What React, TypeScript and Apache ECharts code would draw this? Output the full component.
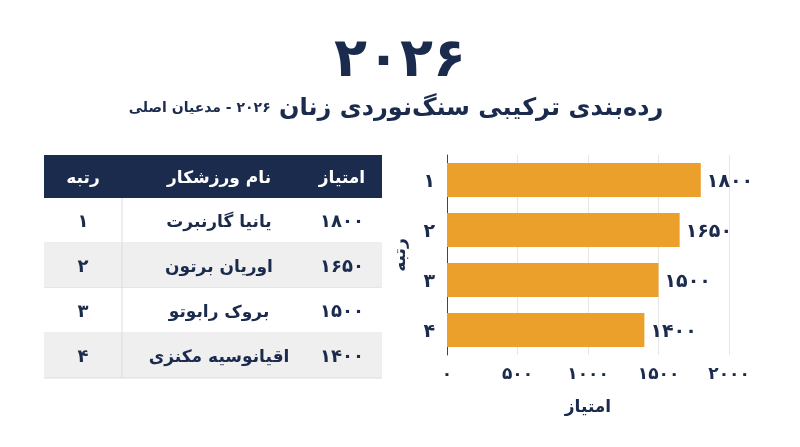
import React, { useEffect, useRef } from 'react';
import * as echarts from 'echarts';

const ranks = [1, 2, 3, 4];
const athletes = ['یانیا گارنبرت', 'اوریان برتون', 'بروک رابوتو', 'اقیانوسیه مکنزی'];
const scores = [1800, 1650, 1500, 1400];
const headers = ['رتبه', 'نام ورزشکار', 'امتیاز'];
const titleText = '2026';
const subtitleMain = 'رده‌بندی ترکیبی سنگ‌نوردی زنان';
const subtitleSmall = '2026 - مدعیان اصلی';
const xAxisName = 'امتیاز';
const yAxisName = 'رتبه';
const xMin = 0;
const xMax = 2000;
const xInterval = 500;

const fa = (v: number | string) => String(v).replace(/\d/g, (d) => '۰۱۲۳۴۵۶۷۸۹'[+d]);

const NAVY = '#1b2b4d';
const BAR = '#eba02c';
const FONT = '"DejaVu Sans", sans-serif';

export default function App() {
  const ref = useRef<HTMLDivElement>(null);
  useEffect(() => {
    if (!ref.current) return;
    const chart = echarts.init(ref.current, null, { renderer: 'svg' });

    const tx = 44, tw = 338, headY = 155, headH = 43, rowH = 45;
    const colRankX = 83, colNameX = 219, colScoreX = 342, sepX = 122;
    const graphic: any[] = [];
    graphic.push({ type: 'rect', shape: { x: tx, y: headY, width: tw, height: headH }, style: { fill: NAVY } });
    const hy = headY + headH / 2;
    const cell = (x: number, y: number, text: string, fill: string, size: number) => ({
      type: 'text', x, y,
      style: { text, fill, font: `bold ${size}px ${FONT}`, textAlign: 'center', textVerticalAlign: 'middle' },
    });
    graphic.push(cell(colRankX, hy, headers[0], '#fff', 17));
    graphic.push(cell(colNameX, hy, headers[1], '#fff', 17));
    graphic.push(cell(colScoreX, hy, headers[2], '#fff', 17));
    ranks.forEach((r, i) => {
      const y0 = headY + headH + i * rowH;
      graphic.push({ type: 'rect', shape: { x: tx, y: y0, width: tw, height: rowH }, style: { fill: i % 2 === 1 ? '#efefef' : '#ffffff' } });
      graphic.push({ type: 'line', shape: { x1: tx, y1: y0 + rowH, x2: tx + tw, y2: y0 + rowH }, style: { stroke: '#dcdcdc', lineWidth: 1 } });
      const cy = y0 + rowH / 2;
      graphic.push(cell(colRankX, cy, fa(r), NAVY, 18));
      graphic.push(cell(colNameX, cy, athletes[i], NAVY, 17));
      graphic.push(cell(colScoreX, cy, fa(scores[i]), NAVY, 18));
    });
    graphic.push({ type: 'line', shape: { x1: sepX, y1: headY + headH, x2: sepX, y2: headY + headH + ranks.length * rowH }, style: { stroke: '#dcdcdc', lineWidth: 1 } });

    graphic.push({ type: 'text', x: 400, y: 57, style: { text: fa(titleText), fill: NAVY, font: `bold 54px ${FONT}`, textAlign: 'center', textVerticalAlign: 'middle' } });
    graphic.push({
      type: 'text', x: 396, y: 107,
      style: {
        text: `{s|\u202B${fa(subtitleSmall)}\u202C}{b| ${subtitleMain}}`,
        textAlign: 'center', textVerticalAlign: 'middle',
        rich: {
          s: { fill: NAVY, font: `bold 14px ${FONT}` },
          b: { fill: NAVY, font: `bold 24px ${FONT}` },
        },
      },
    });

    chart.setOption({
      animation: false,
      graphic,
      grid: { left: 447, right: 71, top: 155, bottom: 92 },
      xAxis: {
        type: 'value', min: xMin, max: xMax, interval: xInterval,
        name: xAxisName, nameLocation: 'middle', nameGap: 42,
        nameTextStyle: { color: NAVY, fontWeight: 'bold', fontSize: 17, fontFamily: FONT },
        axisLine: { show: false }, axisTick: { show: false },
        axisLabel: { color: NAVY, fontWeight: 'bold', fontSize: 17, fontFamily: FONT, margin: 9, formatter: (v: number) => fa(v) },
        splitLine: { show: true, lineStyle: { color: '#e6e6e6' } },
      },
      yAxis: {
        type: 'category', inverse: true, data: ranks.map((r) => fa(r)),
        name: yAxisName, nameLocation: 'middle', nameGap: 40,
        nameTextStyle: { color: NAVY, fontWeight: 'bold', fontSize: 17, fontFamily: FONT },
        axisLine: { show: true, lineStyle: { color: '#444', width: 1 } },
        axisTick: { show: false },
        axisLabel: { color: NAVY, fontWeight: 'bold', fontSize: 19, fontFamily: FONT, margin: 12 },
      },
      series: [{
        type: 'bar', data: scores, barWidth: 34,
        itemStyle: { color: BAR },
        label: { show: true, position: 'right', distance: 6, color: NAVY, fontWeight: 'bold', fontSize: 19, fontFamily: FONT, formatter: (p: any) => fa(p.value) },
      }],
    });
    return () => chart.dispose();
  }, []);
  return <div ref={ref} style={{ position: 'fixed', left: 0, top: 0, width: 800, height: 447 }} />;
}
